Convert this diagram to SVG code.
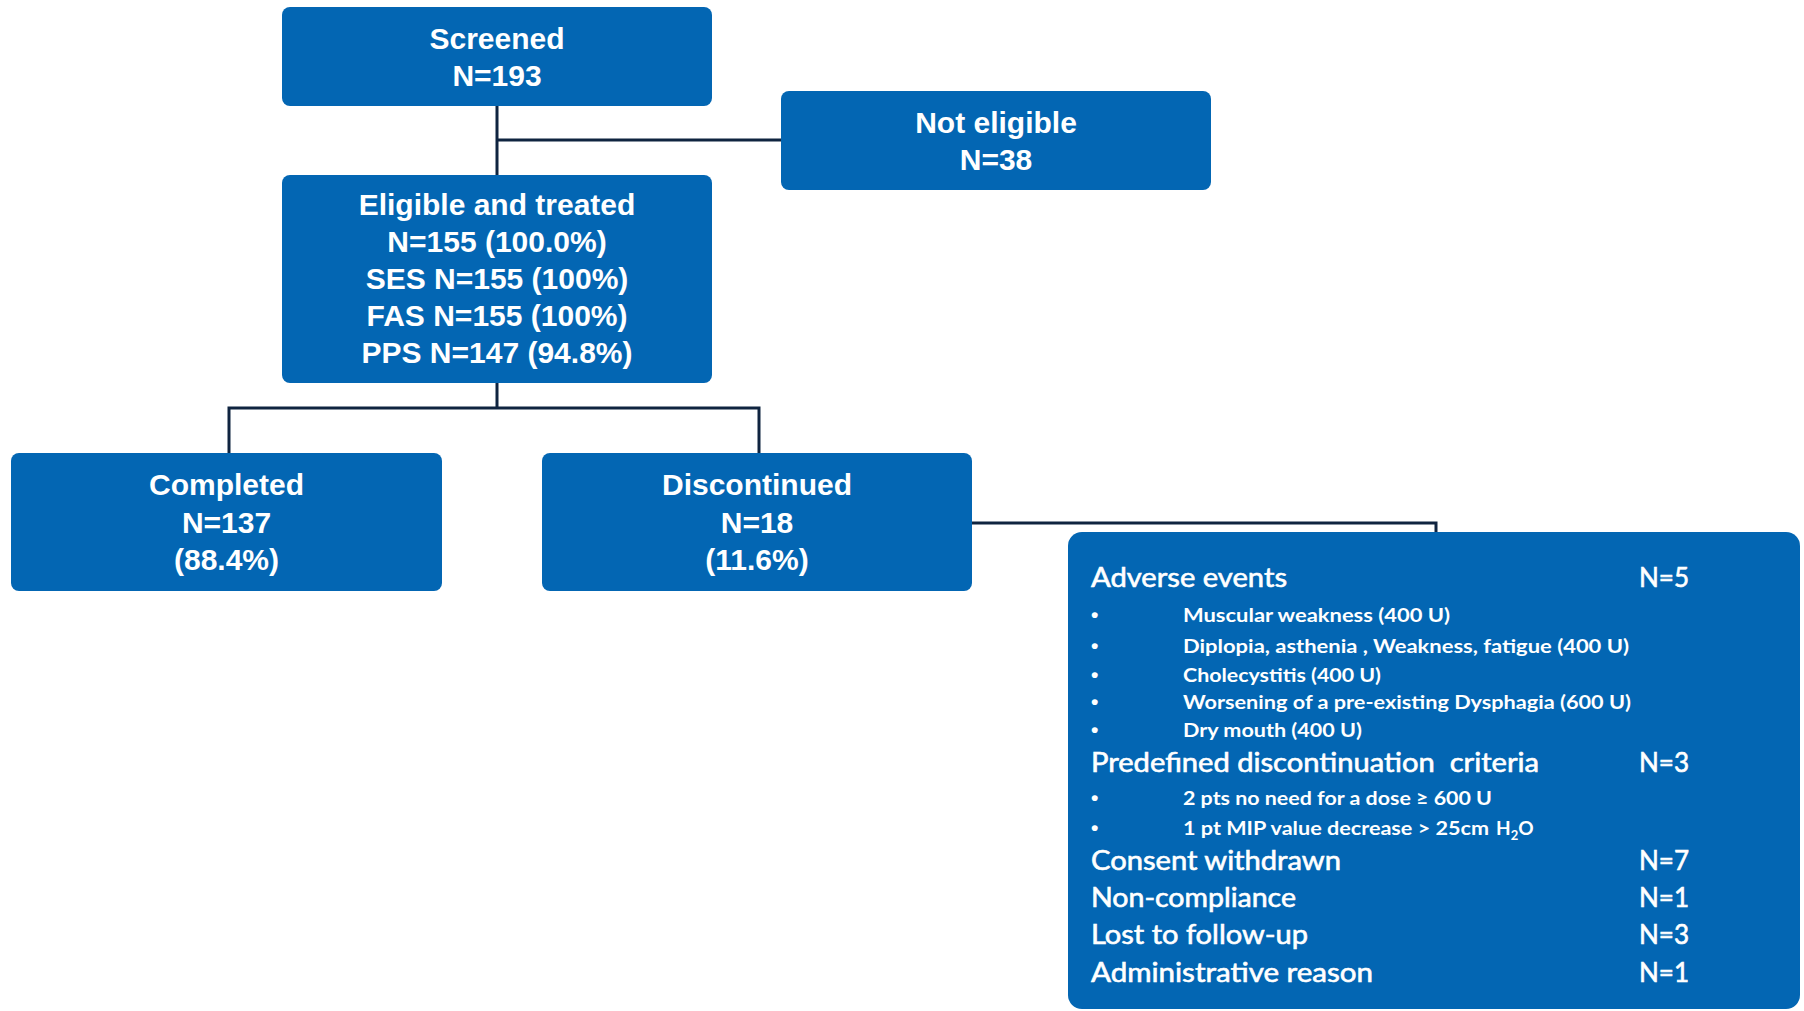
<svg xmlns="http://www.w3.org/2000/svg" width="1804" height="1011" viewBox="0 0 1804 1011">
<style>
.box{fill:#0366B3;}
.t{font-family:"Liberation Sans",Arial,sans-serif;font-weight:bold;font-size:30px;fill:#fff;text-anchor:middle;}
.h{font-family:Lato,"Open Sans",sans-serif;font-size:26px;fill:#fff;stroke:#fff;stroke-width:0.6;white-space:pre;}
.i{font-family:Lato,"Open Sans",sans-serif;font-size:19px;font-weight:bold;fill:#fff;}
.b{font-family:"Liberation Sans",Arial,sans-serif;font-size:21px;font-weight:bold;fill:#fff;}
.c{fill:none;stroke:#0F2440;stroke-width:3;}
</style>
<rect width="1804" height="1011" fill="#fff"/>
<g id="connectors">
<path class="c" d="M497,106 V175 M497,140 H781"/>
<path class="c" d="M497,383 V408 M229,408 H759 M229,406.5 V453 M759,406.5 V453"/>
<path class="c" d="M972,523 H1436 V532"/>
</g>
<g id="screened">
<rect class="box" x="282" y="7" width="430" height="99" rx="8"/>
<text class="t" x="497" y="49">Screened</text>
<text class="t" x="497" y="86">N=193</text>
</g>
<g id="not-eligible">
<rect class="box" x="781" y="91" width="430" height="99" rx="8"/>
<text class="t" x="996" y="133">Not eligible</text>
<text class="t" x="996" y="170">N=38</text>
</g>
<g id="eligible">
<rect class="box" x="282" y="175" width="430" height="208" rx="8"/>
<text class="t" x="497" y="215">Eligible and treated</text>
<text class="t" x="497" y="252">N=155 (100.0%)</text>
<text class="t" x="497" y="289">SES N=155 (100%)</text>
<text class="t" x="497" y="326">FAS N=155 (100%)</text>
<text class="t" x="497" y="363">PPS N=147 (94.8%)</text>
</g>
<g id="completed">
<rect class="box" x="11" y="453" width="431" height="138" rx="8"/>
<text class="t" x="226.5" y="495">Completed</text>
<text class="t" x="226.5" y="533">N=137</text>
<text class="t" x="226.5" y="570">(88.4%)</text>
</g>
<g id="discontinued">
<rect class="box" x="542" y="453" width="430" height="138" rx="8"/>
<text class="t" x="757" y="495">Discontinued</text>
<text class="t" x="757" y="533">N=18</text>
<text class="t" x="757" y="570">(11.6%)</text>
</g>
<g id="reasons">
<rect class="box" x="1068" y="532" width="732" height="477" rx="14"/>
<text class="h" x="1091" y="587" textLength="196" lengthAdjust="spacingAndGlyphs">Adverse events</text>
<text class="h" x="1639" y="587" textLength="50" lengthAdjust="spacingAndGlyphs">N=5</text>
<text class="b" x="1091" y="622">•</text>
<text class="i" x="1183" y="622" textLength="267" lengthAdjust="spacingAndGlyphs">Muscular weakness (400 U)</text>
<text class="b" x="1091" y="653">•</text>
<text class="i" x="1183" y="653" textLength="446" lengthAdjust="spacingAndGlyphs">Diplopia, asthenia , Weakness, fatigue (400 U)</text>
<text class="b" x="1091" y="682">•</text>
<text class="i" x="1183" y="682" textLength="198" lengthAdjust="spacingAndGlyphs">Cholecystitis (400 U)</text>
<text class="b" x="1091" y="709">•</text>
<text class="i" x="1183" y="709" textLength="448" lengthAdjust="spacingAndGlyphs">Worsening of a pre-existing Dysphagia (600 U)</text>
<text class="b" x="1091" y="737">•</text>
<text class="i" x="1183" y="737" textLength="179" lengthAdjust="spacingAndGlyphs">Dry mouth (400 U)</text>
<text class="h" x="1091" y="772" textLength="448" lengthAdjust="spacingAndGlyphs">Predefined discontinuation  criteria</text>
<text class="h" x="1639" y="772" textLength="50" lengthAdjust="spacingAndGlyphs">N=3</text>
<text class="b" x="1091" y="805">•</text>
<text class="i" x="1183" y="805" textLength="309" lengthAdjust="spacingAndGlyphs">2 pts no need for a dose ≥ 600 U</text>
<text class="b" x="1091" y="835">•</text>
<text class="i" x="1183" y="835" textLength="306" lengthAdjust="spacingAndGlyphs">1 pt MIP value decrease &gt; 25cm</text>
<text class="i" x="1496" y="835">H<tspan font-size="13" dy="5">2</tspan><tspan dy="-5">O</tspan></text>
<text class="h" x="1091" y="870" textLength="250" lengthAdjust="spacingAndGlyphs">Consent withdrawn</text>
<text class="h" x="1639" y="870" textLength="50" lengthAdjust="spacingAndGlyphs">N=7</text>
<text class="h" x="1091" y="907" textLength="205" lengthAdjust="spacingAndGlyphs">Non-compliance</text>
<text class="h" x="1639" y="907" textLength="50" lengthAdjust="spacingAndGlyphs">N=1</text>
<text class="h" x="1091" y="944" textLength="217" lengthAdjust="spacingAndGlyphs">Lost to follow-up</text>
<text class="h" x="1639" y="944" textLength="50" lengthAdjust="spacingAndGlyphs">N=3</text>
<text class="h" x="1091" y="982" textLength="282" lengthAdjust="spacingAndGlyphs">Administrative reason</text>
<text class="h" x="1639" y="982" textLength="50" lengthAdjust="spacingAndGlyphs">N=1</text>
</g>
</svg>
